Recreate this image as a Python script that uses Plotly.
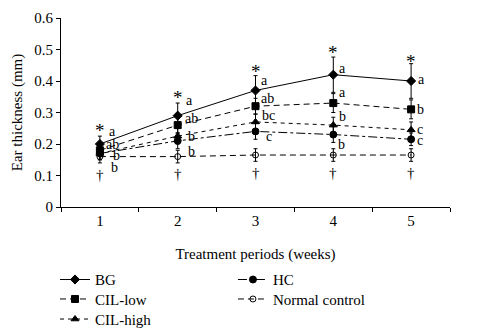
import plotly.graph_objects as go

weeks = [1, 2, 3, 4, 5]

bg = [0.20, 0.29, 0.37, 0.42, 0.40]
bg_err = [0.025, 0.04, 0.047, 0.056, 0.055]
cil_low = [0.18, 0.26, 0.32, 0.33, 0.31]
cil_low_err = [0.02, 0.025, 0.025, 0.03, 0.03]
cil_high = [0.17, 0.225, 0.27, 0.26, 0.245]
cil_high_err = [0.02, 0.025, 0.025, 0.025, 0.025]
hc = [0.17, 0.21, 0.24, 0.23, 0.215]
hc_err = [0.02, 0.025, 0.025, 0.025, 0.02]
normal = [0.16, 0.16, 0.165, 0.165, 0.165]
normal_err = [0.02, 0.02, 0.02, 0.02, 0.02]

# significance letters per week, top to bottom
letter_text = [
    ["a", "ab", "b", "b"],
    ["a", "ab", "b", "b"],
    ["a", "ab", "bc", "c"],
    ["a", "a", "b", "b"],
    ["a", "b", "c", "c"],
]
# vertical placement of the letters (data units)
letter_y = [
    [0.241, 0.197, 0.165, 0.124],
    [0.337, 0.282, 0.225, 0.175],
    [0.403, 0.343, 0.289, 0.225],
    [0.441, 0.365, 0.286, 0.200],
    [0.406, 0.311, 0.246, 0.211],
]
letter_dx = [
    [7, 4, 11, 9],
    [6, 5, 8, 8],
    [3, 3, 4, 8],
    [4, 4, 4, 3],
    [5, 4, 4, 4],
]
star_y = [0.243, 0.347, 0.43, 0.49, 0.462]
dagger_y = [0.102, 0.106, 0.108, 0.108, 0.108]

FONT = "Liberation Serif"

# name, values, errors, dash, marker symbol, marker size
series = [
    ("BG", bg, bg_err, "solid", "diamond", 7),
    ("CIL-low", cil_low, cil_low_err, "6px,4px", "square", 7),
    ("CIL-high", cil_high, cil_high_err, "4px,4px", "triangle-up", 7),
    ("HC", hc, hc_err, "dashdot", "circle", 7),
    ("Normal control", normal, normal_err, "6px,4px", "circle-open", 6),
]
# legend slots: two columns, three rows (paper coordinates)
legend_ids = ["legend", "legend2", "legend3", "legend4", "legend5"]
legend_x = [-0.0154, -0.0154, -0.0154, 0.442, 0.442]
legend_y = [-0.385, -0.488, -0.594, -0.385, -0.488]

fig = go.Figure()
for (name, vals, errs, dash, sym, size), leg in zip(series, legend_ids):
    fig.add_trace(go.Scatter(
        x=weeks, y=vals, name=name, mode="lines+markers", legend=leg,
        line=dict(color="black", width=1, dash=dash),
        marker=dict(symbol=sym, size=size, color="black",
                    line=dict(color="black", width=1)),
        error_y=dict(type="data", array=errs, visible=True,
                     color="black", thickness=1, width=2),
    ))

annotations = []
for wk, texts, ys, dxs in zip(weeks, letter_text, letter_y, letter_dx):
    for txt, yv, dx in zip(texts, ys, dxs):
        annotations.append(dict(x=wk, y=yv, xref="x", yref="y", text=txt,
                                showarrow=False, xanchor="left", xshift=dx,
                                font=dict(family=FONT, size=14, color="black")))
for wk, yv in zip(weeks, star_y):
    annotations.append(dict(x=wk, y=yv, xref="x", yref="y", text="*",
                            showarrow=False, xanchor="center",
                            font=dict(family=FONT, size=19, color="black")))
for wk, yv in zip(weeks, dagger_y):
    annotations.append(dict(x=wk, y=yv, xref="x", yref="y", text="†",
                            showarrow=False, xanchor="center",
                            font=dict(family=FONT, size=15, color="black")))

legend_style = dict(orientation="v", xanchor="left", yanchor="middle",
                    font=dict(family=FONT, size=15, color="black"),
                    bgcolor="rgba(0,0,0,0)", itemwidth=30)
legends = {lid: dict(x=lx, y=ly, **legend_style)
           for lid, lx, ly in zip(legend_ids, legend_x, legend_y)}

fig.update_layout(
    width=484, height=333,
    margin=dict(l=61, r=34, t=18, b=126, autoexpand=False),
    paper_bgcolor="white", plot_bgcolor="white",
    font=dict(family=FONT, size=15, color="black"),
    showlegend=True,
    annotations=annotations,
    xaxis=dict(range=[0.5, 5.5], tickmode="array", tickvals=weeks,
               ticks="", showline=True, linecolor="black", linewidth=1,
               showgrid=False, zeroline=False,
               tickfont=dict(family=FONT, size=15),
               minor=dict(ticks="outside", tickmode="array",
                          tickvals=[0.5, 1.5, 2.5, 3.5, 4.5, 5.5],
                          ticklen=4, tickcolor="black"),
               title=dict(text="Treatment periods (weeks)", standoff=20,
                          font=dict(family=FONT, size=15))),
    yaxis=dict(range=[0, 0.6], tickvals=[0, 0.1, 0.2, 0.3, 0.4, 0.5, 0.6],
               ticktext=["0", "0.1", "0.2", "0.3", "0.4", "0.5", "0.6"],
               ticks="outside", ticklen=4, tickcolor="black",
               tickfont=dict(family=FONT, size=15),
               showline=True, linecolor="black", linewidth=1,
               showgrid=False, zeroline=False,
               title=dict(text="Ear thickness (mm)", standoff=8,
                          font=dict(family=FONT, size=15))),
    **legends,
)

fig.write_html("out.html")
